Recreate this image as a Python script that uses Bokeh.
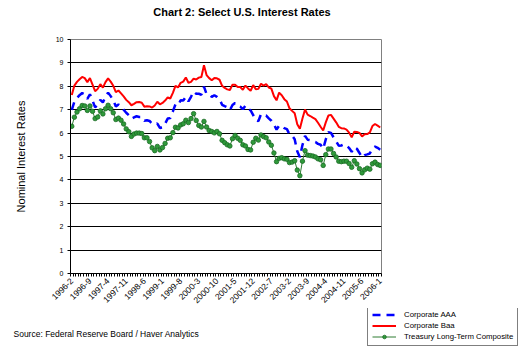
import math
from bokeh.plotting import figure
from bokeh.layouts import column
from bokeh.models import (ColumnDataSource, FixedTicker, Range1d, Legend, LegendItem, Label)
from bokeh.embed import file_html
from bokeh.resources import INLINE

# ---- data (monthly, 1996-2 .. 2006-1) ----
months = [f"{y}-{m}" for y in range(1996, 2007) for m in range(1, 13)
          if (y, m) >= (1996, 2) and (y, m) <= (2006, 1)]

corp_aaa = [
    6.99, 7.35, 7.50, 7.62, 7.71, 7.65, 7.46, 7.66, 7.39, 7.10, 7.20,
    7.42, 7.31, 7.55, 7.73, 7.58, 7.41, 7.14, 7.22, 7.15, 7.00, 6.87, 6.76,
    6.61, 6.67, 6.72, 6.69, 6.69, 6.53, 6.55, 6.52, 6.40, 6.37, 6.41, 6.22,
    6.24, 6.40, 6.62, 6.64, 6.93, 7.23, 7.19, 7.40, 7.39, 7.55, 7.36, 7.55,
    7.78, 7.68, 7.68, 7.64, 7.99, 7.67, 7.65, 7.55, 7.62, 7.55, 7.45, 7.21,
    7.15, 7.10, 6.98, 7.20, 7.29, 7.18, 7.13, 7.02, 7.17, 7.03, 6.97, 6.77,
    6.55, 6.51, 6.81, 6.76, 6.75, 6.63, 6.53, 6.37, 6.15, 6.32, 6.31, 6.21,
    6.17, 5.95, 5.89, 5.74, 5.22, 4.97, 5.49, 5.88, 5.72, 5.70, 5.65, 5.62,
    5.54, 5.50, 5.33, 5.73, 6.04, 6.01, 5.82, 5.65, 5.46, 5.47, 5.52, 5.47,
    5.36, 5.20, 5.40, 5.33, 5.15, 4.96, 5.06, 5.09, 5.13, 5.35, 5.42, 5.37,
    5.29,
]

corp_baa = [
    7.63, 8.03, 8.19, 8.30, 8.40, 8.35, 8.18, 8.35, 8.07, 7.79, 7.89,
    8.09, 7.94, 8.18, 8.34, 8.20, 8.02, 7.75, 7.82, 7.70, 7.57, 7.42, 7.32,
    7.19, 7.25, 7.32, 7.33, 7.30, 7.13, 7.15, 7.14, 7.09, 7.18, 7.34, 7.23,
    7.29, 7.39, 7.53, 7.48, 7.72, 8.02, 7.95, 8.15, 8.20, 8.38, 8.15, 8.19,
    8.33, 8.29, 8.37, 8.40, 8.90, 8.48, 8.35, 8.26, 8.35, 8.34, 8.28, 8.02,
    7.93, 7.87, 7.84, 8.07, 8.07, 7.97, 7.97, 7.85, 8.03, 7.91, 7.81, 8.05,
    7.87, 7.89, 8.11, 8.03, 8.09, 7.95, 7.90, 7.58, 7.40, 7.73, 7.62, 7.45,
    7.35, 7.06, 6.95, 6.85, 6.38, 6.19, 6.62, 7.01, 6.79, 6.73, 6.66, 6.60,
    6.44, 6.27, 6.11, 6.46, 6.75, 6.78, 6.62, 6.46, 6.27, 6.21, 6.20, 6.15,
    6.02, 5.82, 6.06, 6.05, 6.01, 5.86, 5.95, 5.96, 6.03, 6.30, 6.39, 6.32,
    6.24,
]

treasury_lt = [
    6.29, 6.68, 6.90, 7.04, 7.18, 7.16, 6.97, 7.16, 6.93, 6.62, 6.69,
    6.95, 6.82, 7.04, 7.19, 7.04, 6.87, 6.58, 6.64, 6.55, 6.39, 6.18, 6.06,
    5.86, 5.96, 6.00, 6.00, 5.98, 5.80, 5.80, 5.64, 5.37, 5.25, 5.43, 5.28,
    5.38, 5.56, 5.78, 5.80, 6.02, 6.25, 6.22, 6.35, 6.40, 6.55, 6.45, 6.62,
    6.83, 6.54, 6.33, 6.26, 6.50, 6.26, 6.11, 6.07, 6.01, 6.07, 5.97, 5.69,
    5.59, 5.50, 5.45, 5.76, 5.90, 5.78, 5.69, 5.50, 5.45, 5.30, 5.28, 5.61,
    5.78, 5.70, 5.92, 5.85, 5.80, 5.62, 5.48, 5.15, 4.78, 4.92, 4.95, 4.90,
    4.88, 4.74, 4.76, 4.82, 4.42, 4.18, 4.80, 5.25, 5.06, 5.04, 5.02, 4.98,
    4.90, 4.86, 4.62, 5.08, 5.32, 5.32, 5.13, 4.98, 4.80, 4.78, 4.80, 4.80,
    4.70, 4.54, 4.82, 4.68, 4.48, 4.30, 4.43, 4.50, 4.46, 4.69, 4.76, 4.66,
    4.62,
]

tick_labels = ["1996-2", "1996-9", "1997-4", "1997-11", "1998-6", "1999-1",
               "1999-8", "2000-3", "2000-10", "2001-5", "2001-12", "2002-7",
               "2003-2", "2003-9", "2004-4", "2004-11", "2005-6", "2006-1"]
y_ticks = [0, 1, 2, 3, 4, 5, 6, 7, 8, 9, 10]

series_names = ["Corporate AAA", "Corporate Baa", "Treasury Long-Term Composite"]
title_text = "Chart 2:  Select U.S. Interest Rates"
source_text = "Source: Federal Reserve Board / Haver Analytics"

FONT = "Liberation Sans"
AAA_STYLE = dict(line_color="#0000FF", line_width=2.5, line_dash="8 6")
BAA_STYLE = dict(line_color="#FF0000", line_width=2)
TSY_LINE = dict(line_color="#2E7D32", line_width=1)
TSY_MARK = dict(marker="circle", size=4.5, fill_color="#2F9A3A",
                line_color="#1B6B24", line_width=0.8)


def blank(h):
    # panel whose ranges lie far from any data: only screen-placed annotations show
    f = figure(width=525, height=h, output_backend="svg", toolbar_location=None,
               x_range=Range1d(1000, 2000), y_range=Range1d(1000, 2000),
               min_border=0, min_border_left=0, min_border_right=0,
               min_border_top=0, min_border_bottom=0, frame_align=False)
    f.axis.visible = False
    f.grid.visible = False
    f.outline_line_color = None
    f.background_fill_color = "white"
    f.border_fill_color = "white"
    return f


# ---- top: title ----
TOP_H = 34
top = blank(TOP_H)
top.add_layout(Label(x=243, y=TOP_H - 11, x_units="screen", y_units="screen",
                     text=title_text, text_font=FONT,
                     text_font_size="11px", text_font_style="bold", text_align="center",
                     text_baseline="middle", text_color="black"))

# ---- main chart ----
MAIN_H = 274
n = len(months)
idx = list(range(n))
src = ColumnDataSource(dict(x=idx, aaa=corp_aaa, baa=corp_baa, tsy=treasury_lt))

p = figure(width=525, height=MAIN_H, output_backend="svg", toolbar_location=None,
           x_range=Range1d(-0.5, n - 0.5), y_range=Range1d(0, 10),
           min_border_left=70, min_border_right=144, min_border_top=5,
           min_border_bottom=MAIN_H - 5 - 234, frame_align=False)
p.background_fill_color = "white"
p.border_fill_color = "white"
p.outline_line_color = "#808080"
p.outline_line_width = 1

p.xgrid.visible = False
p.ygrid.grid_line_color = "black"
p.ygrid.grid_line_width = 1
p.ygrid.ticker = FixedTicker(ticks=y_ticks)

tick_pos = [months.index(t) for t in tick_labels]
p.xaxis.ticker = FixedTicker(ticks=tick_pos, minor_ticks=[i - 0.5 for i in range(n + 1)])
p.xaxis.major_label_overrides = {pos: lab for pos, lab in zip(tick_pos, tick_labels)}
p.xaxis.major_label_orientation = math.pi / 4
p.xaxis.major_tick_out = 0
p.xaxis.major_tick_in = 0
p.xaxis.minor_tick_out = 3
p.xaxis.minor_tick_in = 0
p.xaxis.minor_tick_line_color = "black"
p.xaxis.axis_line_color = "black"
p.xaxis.major_label_text_font = FONT
p.xaxis.major_label_text_font_size = "8.5px"
p.xaxis.major_label_text_color = "black"
p.xaxis.major_label_standoff = 3

p.yaxis.ticker = FixedTicker(ticks=y_ticks)
p.yaxis.major_tick_out = 3
p.yaxis.major_tick_in = 0
p.yaxis.minor_tick_out = 0
p.yaxis.minor_tick_in = 0
p.yaxis.axis_line_color = "black"
p.yaxis.major_label_text_font = FONT
p.yaxis.major_label_text_font_size = "7px"
p.yaxis.major_label_text_color = "black"
p.yaxis.major_label_standoff = 4
p.yaxis.axis_label = "Nominal Interest Rates"
p.yaxis.axis_label_text_font = FONT
p.yaxis.axis_label_text_font_size = "11px"
p.yaxis.axis_label_text_font_style = "normal"
p.yaxis.axis_label_text_color = "black"
p.yaxis.axis_label_standoff = 26

p.line("x", "aaa", source=src, **AAA_STYLE)
p.line("x", "baa", source=src, **BAA_STYLE)
p.line("x", "tsy", source=src, **TSY_LINE)
p.scatter("x", "tsy", source=src, **TSY_MARK)

# ---- bottom: source + legend ----
BOT_H = 350 - TOP_H - MAIN_H
bot = blank(BOT_H)
bot.add_layout(Label(x=13, y=BOT_H - (333 - TOP_H - MAIN_H), x_units="screen", y_units="screen",
                     text=source_text, text_font=FONT,
                     text_font_size="8.5px", text_align="left",
                     text_baseline="middle", text_color="black"))

# legend proxies: same series, outside this panel's visible ranges
g_aaa = bot.line("x", "aaa", source=src, **AAA_STYLE)
g_baa = bot.line("x", "baa", source=src, **BAA_STYLE)
g_tsy = bot.line("x", "tsy", source=src, **TSY_LINE)
g_tsy_m = bot.scatter("x", "tsy", source=src, **TSY_MARK)

legend = Legend(items=[
    LegendItem(label=series_names[0], renderers=[g_aaa]),
    LegendItem(label=series_names[1], renderers=[g_baa]),
    LegendItem(label=series_names[2], renderers=[g_tsy, g_tsy_m]),
], location=(367, 4))
legend.border_line_color = "black"
legend.border_line_width = 1
legend.background_fill_color = "white"
legend.background_fill_alpha = 1
legend.label_text_font = FONT
legend.label_text_font_size = "7.8px"
legend.label_text_color = "black"
legend.label_height = 9
legend.glyph_height = 9
legend.glyph_width = 24
legend.label_width = 104
legend.label_standoff = 8
legend.spacing = 2
legend.padding = 4
legend.margin = 0
bot.add_layout(legend, "center")

layout = column(top, p, bot, spacing=0)
open("out.html", "w").write(file_html(layout, INLINE))
